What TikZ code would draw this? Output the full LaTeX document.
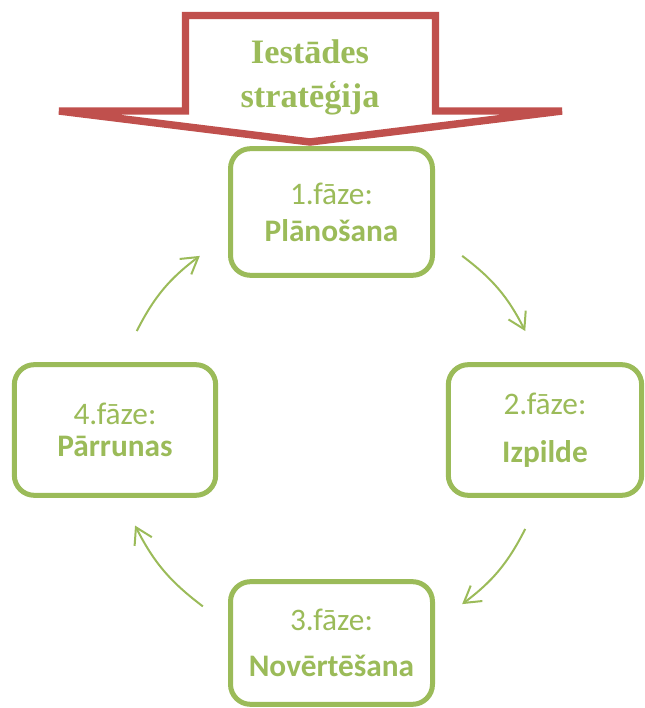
\documentclass[tikz,border=0pt]{standalone}
\usepackage{fontspec}
\setmainfont{Carlito}
\newfontfamily\headfont{Liberation Serif}
\usetikzlibrary{arrows.meta}
\definecolor{phgreen}{HTML}{9BBB59}
\definecolor{phred}{HTML}{C0504D}
\begin{document}
\begin{tikzpicture}[x=0.75pt,y=0.75pt]
\tikzstyle{phase}=[draw=phgreen, fill=white, line width=3.75pt, rounded corners=15pt,
    text=phgreen, align=center, minimum width=151.5pt, font=\fontsize{23.5}{24}\selectfont]
\tikzstyle{flow}=[draw=phgreen, line width=1.5pt, -{Straight Barb[length=12pt,width=14.5pt]}]
    \useasboundingbox (0,0) rectangle (644,708);
    \node (ph1) [phase, minimum height=95pt] at (331.5,496) {1.fāze:\\[3.75pt]\textbf{Plānošana}};
    \node (ph2) [phase, minimum height=98pt, minimum width=145pt] at (545,278) {2.fāze:\\[12pt]\textbf{Izpilde}};
    \node (ph3) [phase, minimum height=92pt] at (331.5,65) {3.fāze:\\[11pt]\textbf{Novērtēšana}};
    \node (ph4) [phase, minimum height=98pt, minimum width=151pt] at (115,278) {4.fāze:\\\textbf{Pārrunas}};
    % cycle arrows
    \coordinate (c) at (331,278);
    \foreach \a/\b [count=\i] in {53/27, -27/-53, 234/206, 153/127} {
        \coordinate (s\i) at ([shift={(\a:218)}]c);
        \coordinate (e\i) at ([shift={(\b:218)}]c);
        \draw[flow] (s\i) to[bend left=13] (e\i);
    }
    % strategy arrow
    \draw[draw=phred, line width=5.6pt, fill=white] (185.5,692.5) -- (435.5,692.5) -- (435.5,597)
        -- (562,597) -- (310,566) -- (59,597) -- (185.5,597) -- cycle;
    \node (strat) [text=phgreen, align=center, font=\headfont\bfseries\fontsize{25.7}{33}\selectfont] at (310,631) {Iestādes\\stratēģija};
\end{tikzpicture}
\end{document}
